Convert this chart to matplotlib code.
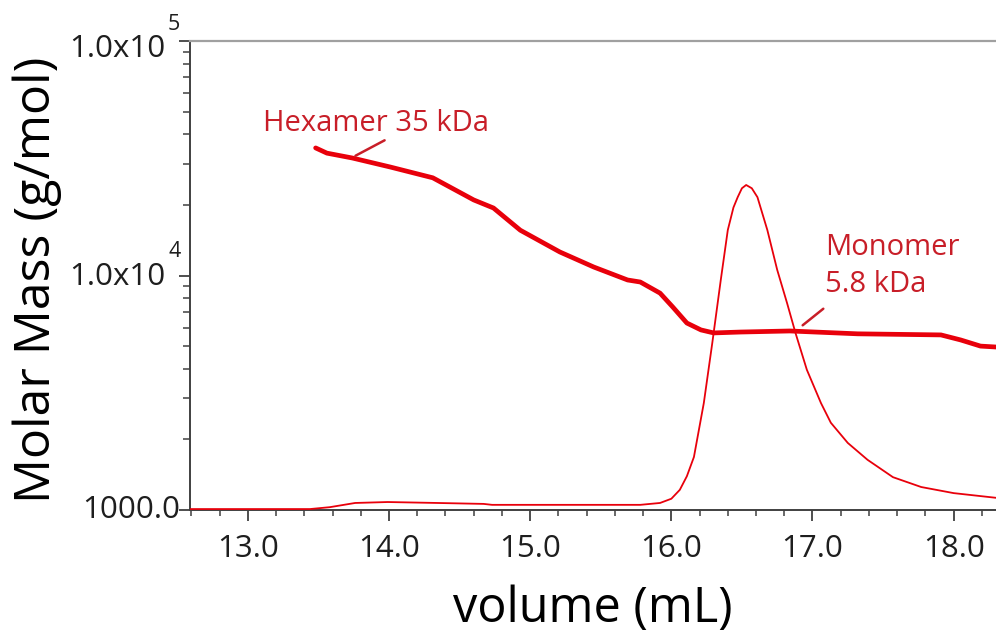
import matplotlib
matplotlib.use("Agg")
import matplotlib.pyplot as plt
from matplotlib.ticker import FixedLocator, NullFormatter, MultipleLocator
import matplotlib.transforms as mtransforms

plt.rcParams['font.family'] = ['Open Sans', 'DejaVu Sans']

# Molar mass trace (g/mol) vs elution volume (mL)
mm_volume = [13.48, 13.56, 13.74, 14.01, 14.31, 14.60, 14.74, 14.93, 15.21, 15.45,
             15.69, 15.78, 15.92, 16.01, 16.11, 16.21, 16.30, 16.49, 16.84, 17.32,
             17.91, 18.05, 18.19, 18.30]
mm_mass = [35000, 33250, 31700, 29000, 26100, 21000, 19400, 15600, 12600, 10870,
           9570, 9380, 8410, 7340, 6270, 5860, 5690, 5740, 5800, 5640,
           5580, 5310, 5000, 4955]

# Concentration signal (relative units) vs elution volume (mL)
sig_volume = [12.59, 13.44, 13.58, 13.76, 13.99, 14.34, 14.67, 14.73, 15.78, 15.92,
              16.00, 16.06, 16.11, 16.16, 16.23, 16.29, 16.35, 16.40, 16.44, 16.47,
              16.50, 16.53, 16.57, 16.61, 16.64, 16.68, 16.75, 16.82, 16.88, 16.96,
              17.06, 17.13, 17.25, 17.39, 17.57, 17.77, 18.00, 18.30]
sig_value = [0.002, 0.002, 0.006, 0.015, 0.017, 0.015, 0.013, 0.011, 0.011, 0.015,
             0.024, 0.043, 0.072, 0.113, 0.228, 0.356, 0.490, 0.597, 0.645, 0.667,
             0.686, 0.693, 0.686, 0.667, 0.637, 0.597, 0.512, 0.441, 0.377, 0.299,
             0.228, 0.186, 0.143, 0.107, 0.070, 0.049, 0.036, 0.026]

x_ticks = [13.0, 14.0, 15.0, 16.0, 17.0, 18.0]
x_ticklabels = ["13.0", "14.0", "15.0", "16.0", "17.0", "18.0"]
y_ticks = [1000, 10000, 100000]

line_red = '#e8000b'
text_red = '#c81e28'
axis_dark = '#404040'
tick_text = '#1e1e1e'

fig = plt.figure(figsize=(9.96, 6.36), dpi=100)
ax = fig.add_axes([190/996, 1 - 510/636, 1 - 190/996, (510 - 41)/636])

ax.set_yscale('log')
ax.set_ylim(1000, 100000)
ax.set_xlim(12.59, 18.30)

ax.plot(mm_volume, mm_mass, color=line_red, lw=3.4, solid_capstyle='round',
        solid_joinstyle='round', zorder=3)

ax2 = ax.twinx()
ax2.set_ylim(0, 1)
ax2.plot(sig_volume, sig_value, color=line_red, lw=1.3, solid_joinstyle='round', zorder=2)
ax2.set_axis_off()

# spines
ax.spines['right'].set_visible(False)
ax.spines['top'].set_color('#a0a0a0')
ax.spines['top'].set_linewidth(1.6)
for s in ['left', 'bottom']:
    ax.spines[s].set_color(axis_dark)
    ax.spines[s].set_linewidth(1.4)

# x ticks
ax.xaxis.set_major_locator(FixedLocator(x_ticks))
ax.set_xticklabels(x_ticklabels)
ax.xaxis.set_minor_locator(MultipleLocator(0.2))
ax.tick_params(axis='x', which='major', length=8, width=1.3, color=axis_dark,
               labelsize=22.5, labelcolor=tick_text, pad=9)
ax.tick_params(axis='x', which='minor', length=4, width=1.1, color=axis_dark)

# y ticks
ax.yaxis.set_major_locator(FixedLocator(y_ticks))
ax.yaxis.set_minor_formatter(NullFormatter())
ax.set_yticklabels([])
ax.tick_params(axis='y', which='major', length=8, width=1.3, color=axis_dark)
ax.tick_params(axis='y', which='minor', length=5, width=1.1, color=axis_dark)

trans = mtransforms.blended_transform_factory(ax.transAxes, ax.transData)
px = 1.0 / (996 - 190)
ax.text(-10 * px, 1000, "1000.0", transform=trans, ha='right', va='center',
        fontsize=22.5, color=tick_text)
for val, exp, dy in [(10000, "4", -1), (100000, "5", -6)]:
    t = mtransforms.offset_copy(trans, fig=fig, x=0, y=dy, units='points')
    ax.text(-25 * px, val, "1.0x10", transform=t, ha='right', va='center',
            fontsize=22.5, color=tick_text)
    t2 = mtransforms.offset_copy(trans, fig=fig, x=0, y=dy + 18, units='points')
    ax.text(-22 * px, val, exp, transform=t2, ha='left', va='center',
            fontsize=15.5, color=tick_text)

ax.set_xlabel("volume (mL)", fontsize=35, color='black', labelpad=15)
ax.set_ylabel("Molar Mass (g/mol)", fontsize=36, color='black', va='center')
ax.yaxis.set_label_coords(-0.189, 0.49)

# annotations
ax.text(13.11, 44700, "Hexamer 35 kDa", fontsize=21, color=text_red,
        ha='left', va='center')
ax.annotate("", xy=(13.745, 32000), xytext=(13.986, 38200),
            arrowprops=dict(arrowstyle='-', color=text_red, lw=1.8))
ax.text(17.09, 10980, "Monomer\n5.8 kDa", fontsize=21, color=text_red,
        ha='left', va='center', linespacing=1.39)
ax.annotate("", xy=(16.915, 6030), xytext=(17.092, 7340),
            arrowprops=dict(arrowstyle='-', color=text_red, lw=1.8))

fig.savefig("out.png", dpi=100)
